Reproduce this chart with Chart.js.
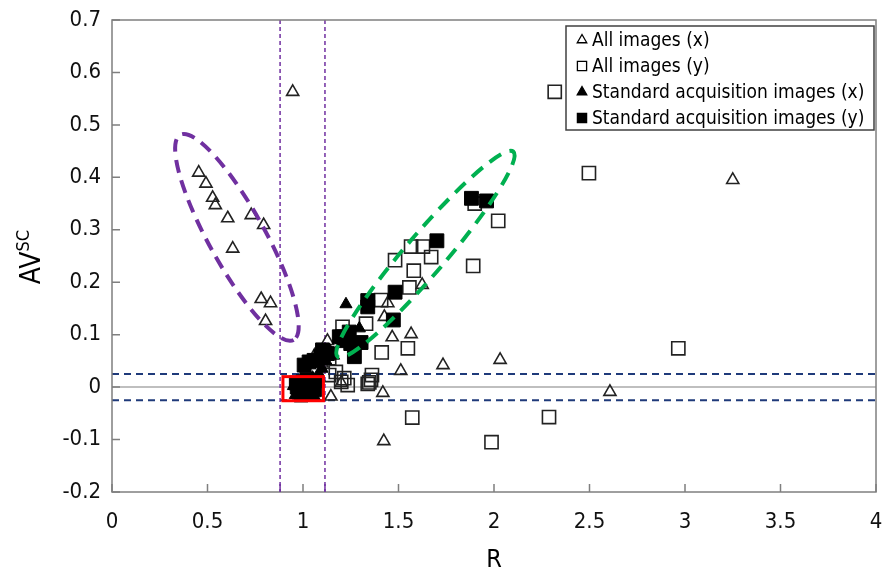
<!DOCTYPE html>
<html><head><meta charset="utf-8">
<script src="https://cdn.jsdelivr.net/npm/chart.js@4.4.0/dist/chart.umd.min.js"></script>
<style>html,body{margin:0;padding:0;background:#fff;}#wrap{width:888px;height:577px;position:relative;}</style>
</head><body><div id="wrap"><canvas id="c" width="888" height="577"></canvas></div>
<script>
// ---------- data (R, AVsc) ----------
const seriesNames = ["All images (x)", "All images (y)", "Standard acquisition images (x)", "Standard acquisition images (y)"];
const xTickLabels = ["0","0.5","1","1.5","2","2.5","3","3.5","4"];
const yTickLabels = ["-0.2","-0.1","0","0.1","0.2","0.3","0.4","0.5","0.6","0.7"];
const xAxisTitle = "R";
const yAxisTitleMain = "AV";
const yAxisTitleSup = "SC";

const allImagesX = [
  [0.946,0.563],
  [0.454,0.409],[0.492,0.388],[0.527,0.361],[0.541,0.347],[0.606,0.322],[0.729,0.328],[0.794,0.309],
  [0.632,0.264],[0.781,0.168],[0.830,0.160],[0.804,0.126],
  [1.624,0.195],[1.444,0.160],[1.426,0.134],[1.467,0.095],[1.566,0.101],[1.128,0.088],[1.733,0.042],
  [2.032,0.052],[1.512,0.031],[1.418,-0.011],[2.607,-0.009],[1.423,-0.103],[3.250,0.395],
  [1.200,0.008],[1.146,-0.018],[1.080,0.020],[1.100,0.045],[1.060,0.060]
];
const allImagesY = [
  [2.318,0.563],[2.497,0.408],[2.965,0.074],[2.022,0.317],[1.891,0.231],[1.899,0.350],
  [1.566,0.268],[1.628,0.268],[1.671,0.248],[1.482,0.242],[1.580,0.222],[1.557,0.190],
  [1.409,0.166],[1.330,0.121],[1.207,0.115],[1.412,0.066],[1.549,0.074],[1.361,0.023],
  [1.347,0.009],[1.356,0.014],[1.339,0.006],[1.234,0.004],[1.216,0.017],[1.172,0.029],
  [1.137,0.023],[1.200,0.010],[1.572,-0.058],[2.288,-0.057],[1.987,-0.105],[1.137,0.055]
];
const standardX = [
  [1.225,0.158],[1.295,0.112],[1.200,0.082],[1.120,0.050],[1.100,0.035],[1.080,0.025],
  [1.050,0.018],[1.000,0.005],[0.970,-0.005],[0.960,-0.015],[0.990,-0.020],[1.020,-0.010],
  [1.040,0.000],[0.980,0.010],[1.060,-0.018],[1.160,0.060],[1.140,0.070],[0.950,0.002]
];
const standardY = [
  [1.882,0.360],[1.961,0.355],[1.701,0.279],[1.482,0.181],[1.339,0.165],[1.339,0.153],
  [1.473,0.128],[1.207,0.096],[1.242,0.105],[1.304,0.085],[1.269,0.058],[1.128,0.064],
  [1.006,0.042],[1.032,0.048],[1.058,0.051],[1.093,0.058],[1.102,0.071],[1.190,0.096],[1.250,0.083],
  [0.970,0.000],[1.000,0.010],[1.030,-0.010],[1.050,0.005],[0.990,-0.015],[1.020,0.015],
  [1.060,-0.005],[0.965,0.008],[1.070,0.012],[1.010,-0.012]
];
// reference lines / annotations (data units)
const horizontalLimits = [0.025, -0.025];
const verticalLimits = [0.88, 1.115];
const redBox = {r0:0.895, r1:1.107, v0:-0.026, v1:0.020};
const greenEllipse = {p1:[1.181,0.058], p2:[2.101,0.449]};
const purpleEllipse = {p1:[0.357,0.481], p2:[0.951,0.090]};

// ---------- styling ----------
const FONT = "'DejaVu Sans Condensed','DejaVu Sans',sans-serif";
const toPts = a => a.map(p => ({x:p[0], y:p[1]}));

const deco = {
  id:'deco',
  beforeDatasetsDraw(chart){
    const {ctx, chartArea:a, scales:{x,y}} = chart;
    ctx.save();
    ctx.beginPath(); ctx.rect(a.left,a.top,a.right-a.left,a.bottom-a.top); ctx.clip();
    const y0 = y.getPixelForValue(0);
    ctx.strokeStyle='#BFBFBF'; ctx.lineWidth=2;
    ctx.beginPath(); ctx.moveTo(a.left,y0); ctx.lineTo(a.right,y0); ctx.stroke();
    ctx.setLineDash([7,5]); ctx.strokeStyle='#1F3A7A'; ctx.lineWidth=2;
    horizontalLimits.forEach(v=>{const py=y.getPixelForValue(v);
      ctx.beginPath(); ctx.moveTo(a.left,py); ctx.lineTo(a.right,py); ctx.stroke();});
    ctx.setLineDash([4,3]); ctx.strokeStyle='#7030A0'; ctx.lineWidth=1.5;
    verticalLimits.forEach(v=>{const px=x.getPixelForValue(v);
      ctx.beginPath(); ctx.moveTo(px,a.top); ctx.lineTo(px,a.bottom); ctx.stroke();});
    ctx.restore();
  },
  afterDatasetsDraw(chart){
    const {ctx, chartArea:a, scales:{x,y}} = chart;
    ctx.save();
    const ell = (e, b, color, dash, lw) => {
      const x1=x.getPixelForValue(e.p1[0]), y1=y.getPixelForValue(e.p1[1]);
      const x2=x.getPixelForValue(e.p2[0]), y2=y.getPixelForValue(e.p2[1]);
      const cx=(x1+x2)/2, cy=(y1+y2)/2, ra=Math.hypot(x2-x1,y2-y1)/2, ang=Math.atan2(y2-y1,x2-x1);
      ctx.setLineDash(dash); ctx.strokeStyle=color; ctx.lineWidth=lw;
      ctx.beginPath(); ctx.ellipse(cx,cy,ra,b,ang,0,Math.PI*2); ctx.stroke();
    };
    ell(greenEllipse, 20, '#00B050', [14,9], 4);
    ell(purpleEllipse, 28, '#7030A0', [13,8], 4);
    // red box
    ctx.setLineDash([]); ctx.strokeStyle='#FF0000'; ctx.lineWidth=3;
    const rx0=x.getPixelForValue(redBox.r0), rx1=x.getPixelForValue(redBox.r1);
    const ry0=y.getPixelForValue(redBox.v1), ry1=y.getPixelForValue(redBox.v0);
    ctx.strokeRect(rx0,ry0,rx1-rx0,ry1-ry0);
    // frame
    ctx.strokeStyle='#7F7F7F'; ctx.lineWidth=1.5;
    ctx.strokeRect(a.left,a.top,a.right-a.left,a.bottom-a.top);
    // inward ticks
    ctx.beginPath();
    x.ticks.forEach(t=>{const px=x.getPixelForValue(t.value); ctx.moveTo(px,a.bottom); ctx.lineTo(px,a.bottom-8);});
    y.ticks.forEach(t=>{const py=y.getPixelForValue(t.value); ctx.moveTo(a.left,py); ctx.lineTo(a.left+8,py);});
    ctx.stroke();
    ctx.strokeStyle='#7030A0'; ctx.lineWidth=1.5; ctx.beginPath();
    verticalLimits.forEach(v=>{const px=x.getPixelForValue(v); ctx.moveTo(px,a.bottom); ctx.lineTo(px,a.bottom-8);});
    ctx.stroke();
    ctx.restore();
  },
  afterDraw(chart){
    const {ctx, chartArea:a} = chart;
    ctx.save();
    // legend
    const W = 308, H = 104, L = a.right-W-2, T = a.top+6;
    ctx.fillStyle='#fff'; ctx.fillRect(L,T,W,H);
    ctx.strokeStyle='#404040'; ctx.lineWidth=1.5; ctx.strokeRect(L,T,W,H);
    ctx.font = "19px " + FONT; ctx.textBaseline='middle'; ctx.textAlign='left'; ctx.fillStyle='#000';
    chart.data.datasets.forEach((ds,i)=>{
      const cy = T+14+i*26;
      ctx.save();
      ctx.strokeStyle='#000'; ctx.fillStyle = ds.backgroundColor; ctx.lineWidth=1.3;
      Chart.helpers.drawPoint(ctx,{pointStyle:ds.pointStyle, radius: ds.pointStyle==='triangle'?5.5:6.5, rotation:0, borderWidth:1.3}, L+16, cy);
      ctx.restore();
      ctx.fillStyle='#000'; ctx.fillText(ds.label, L+26, cy+1);
    });
    // axis titles
    ctx.fillStyle='#000'; ctx.textAlign='center'; ctx.textBaseline='middle';
    ctx.font = "25px " + FONT;
    ctx.fillText(xAxisTitle, (a.left+a.right)/2, 560);
    ctx.save();
    ctx.translate(30, 257); ctx.rotate(-Math.PI/2);
    ctx.font = "28px " + FONT; ctx.textAlign='left'; ctx.textBaseline='alphabetic';
    const wMain = ctx.measureText(yAxisTitleMain).width;
    ctx.font = "18px " + FONT;
    const wSup = ctx.measureText(yAxisTitleSup).width;
    const start = -(wMain+wSup)/2;
    ctx.font = "28px " + FONT; ctx.fillText(yAxisTitleMain, start, 10);
    ctx.font = "18px " + FONT; ctx.fillText(yAxisTitleSup, start+wMain, -1);
    ctx.restore();
    ctx.restore();
  }
};

const openStyle = {backgroundColor:'rgba(0,0,0,0)', borderColor:'#222', borderWidth:1.6};
const filledStyle = {backgroundColor:'#000', borderColor:'#000', borderWidth:1};

new Chart(document.getElementById('c'), {
  type:'scatter',
  data:{datasets:[
    {label:seriesNames[0], data:toPts(allImagesX), pointStyle:'triangle', pointRadius:7, order:3, ...openStyle},
    {label:seriesNames[1], data:toPts(allImagesY), pointStyle:'rect', pointRadius:9.3, order:2, ...openStyle},
    {label:seriesNames[2], data:toPts(standardX), pointStyle:'triangle', pointRadius:7, order:1, ...filledStyle},
    {label:seriesNames[3], data:toPts(standardY), pointStyle:'rect', pointRadius:9.8, order:0, ...filledStyle}
  ]},
  options:{
    responsive:false, animation:false, devicePixelRatio:1,
    layout:{padding:{left:0, top:20, right:12, bottom:0}},
    plugins:{legend:{display:false}, tooltip:{enabled:false}},
    elements:{point:{hoverRadius:0}},
    scales:{
      x:{type:'linear', min:0, max:4,
        afterBuildTicks(s){ s.ticks = xTickLabels.map(v=>({value:parseFloat(v)})); },
        afterFit(s){ s.height = 85; s.paddingLeft = 0; s.paddingRight = 0; },
        grid:{drawOnChartArea:false, drawTicks:false},
        border:{display:false},
        ticks:{padding:17, color:'#111', font:{family:FONT, size:22}, maxRotation:0,
          callback:(v,i)=>xTickLabels[i]}},
      y:{type:'linear', min:-0.2, max:0.7,
        afterBuildTicks(s){ s.ticks = yTickLabels.map(v=>({value:parseFloat(v)})); },
        afterFit(s){ s.width = 112; s.paddingTop = 0; s.paddingBottom = 0; },
        grid:{drawOnChartArea:false, drawTicks:false},
        border:{display:false},
        ticks:{padding:11, color:'#111', font:{family:FONT, size:22},
          callback:(v,i)=>yTickLabels[i]}}
    }
  },
  plugins:[deco]
});
</script></body></html>
